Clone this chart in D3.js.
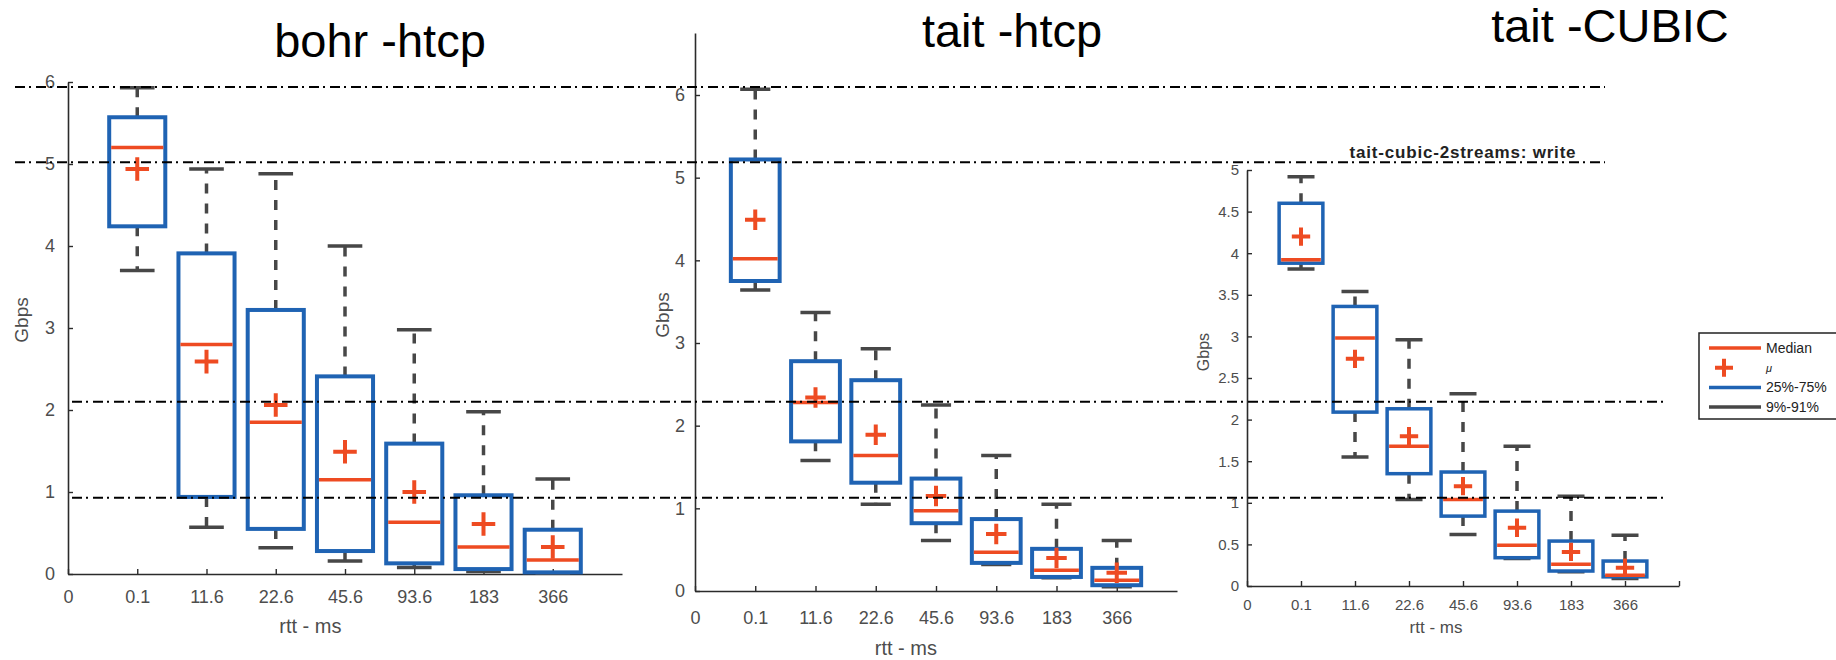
<!DOCTYPE html>
<html>
<head>
<meta charset="utf-8">
<script src="https://cdn.jsdelivr.net/npm/d3@7"></script>
<style>
  body { margin: 0; background: #fff; }
  svg { display: block; }
  text { font-family: "Liberation Sans", Arial, sans-serif; }
</style>
</head>
<body>
<div id="chart"></div>
<script>
// x positions 0..7, position 0 has no data
const rttLabels = ["0", "0.1", "11.6", "22.6", "45.6", "93.6", "183", "366"];

// each row: [9%, 25%, median, mean, 75%, 91%]  (Gbps)
const bohrHtcp = [
  [3.70, 4.24, 5.20, 4.94, 5.57, 5.93],
  [0.57, 0.94, 2.80, 2.59, 3.91, 4.94],
  [0.32, 0.55, 1.85, 2.06, 3.22, 4.88],
  [0.16, 0.28, 1.15, 1.49, 2.41, 4.00],
  [0.08, 0.13, 0.63, 1.00, 1.59, 2.98],
  [0.03, 0.06, 0.33, 0.61, 0.96, 1.98],
  [0.01, 0.02, 0.17, 0.33, 0.54, 1.16]
];
const taitHtcp = [
  [3.64, 3.75, 4.02, 4.49, 5.22, 6.07],
  [1.58, 1.81, 2.28, 2.34, 2.78, 3.37],
  [1.05, 1.31, 1.64, 1.89, 2.55, 2.93],
  [0.61, 0.82, 0.97, 1.15, 1.36, 2.25],
  [0.32, 0.34, 0.47, 0.69, 0.87, 1.64],
  [0.16, 0.17, 0.25, 0.40, 0.51, 1.05],
  [0.05, 0.07, 0.13, 0.22, 0.28, 0.61]
];
const taitCubic = [
  [3.81, 3.88, 3.92, 4.20, 4.60, 4.92],
  [1.55, 2.09, 2.98, 2.73, 3.36, 3.54],
  [1.04, 1.35, 1.68, 1.80, 2.13, 2.96],
  [0.62, 0.84, 1.04, 1.20, 1.37, 2.31],
  [0.33, 0.34, 0.49, 0.70, 0.90, 1.68],
  [0.17, 0.18, 0.26, 0.41, 0.54, 1.08],
  [0.09, 0.11, 0.13, 0.22, 0.30, 0.61]
];

const panelTitles = ["bohr -htcp", "tait -htcp", "tait -CUBIC"];
const cubicSubtitle = "tait-cubic-2streams: write";
const yTicksHtcp = [0, 1, 2, 3, 4, 5, 6];
const yTicksCubic = [0, 0.5, 1, 1.5, 2, 2.5, 3, 3.5, 4, 4.5, 5];
// dash-dot guide lines, in Gbps on the bohr axis
const guideLevels = [5.94, 5.02, 2.10, 0.93];
const legendLabels = ["Median", "\u03bc", "25%-75%", "9%-91%"];

const red = "#ee4b22", blue = "#1f63b3", grey = "#474747", axisCol = "#2b2b2b", tickCol = "#4d4d4d";

const svg = d3.select("#chart").append("svg")
  .attr("width", 1836)
  .attr("height", 660);

const panels = [
  { title: panelTitles[0], data: bohrHtcp, yTicks: yTicksHtcp, yMax: 6,
    left: 68, right: 622, bottom: 574, top: 82,
    titleX: 380, titleY: 57, tickFont: 18, xPad: 16, yPad: 13,
    yLabX: 21, yLabY: 320, xLabY: 633, labFont: 20, stroke: 4, endTick: false },
  { title: panelTitles[1], data: taitHtcp, yTicks: yTicksHtcp, yMax: 6.75,
    left: 695, right: 1177, bottom: 591, top: 33,
    titleX: 1012, titleY: 47, tickFont: 18, xPad: 20, yPad: 10,
    yLabX: 662, yLabY: 315, xLabY: 655, labFont: 20, stroke: 4, endTick: false },
  { title: panelTitles[2], data: taitCubic, yTicks: yTicksCubic, yMax: 5,
    left: 1247, right: 1679, bottom: 586, top: 170,
    titleX: 1610, titleY: 42, tickFont: 15, xPad: 13, yPad: 8,
    yLabX: 1203, yLabY: 352, xLabY: 633, labFont: 17, stroke: 3.5, endTick: true }
];

panels.forEach(p => {
  const x = d3.scaleLinear([0, 8], [p.left, p.right]),
    y = d3.scaleLinear([0, p.yMax], [p.bottom, p.top]),
    step = x(1) - x(0),
    boxW = step * 0.81,
    capW = step * 0.5,
    crossR = step * 0.17,
    g = svg.append("g");

  // axes
  const xAxis = d3.axisBottom(x)
    .tickValues(p.endTick ? d3.range(9) : d3.range(8))
    .tickFormat(i => rttLabels[i] || "")
    .tickSize(-5).tickSizeOuter(0).tickPadding(p.xPad);
  const yAxis = d3.axisLeft(y)
    .tickValues(p.yTicks)
    .tickFormat(d3.format("~g"))
    .tickSize(-5).tickSizeOuter(0).tickPadding(p.yPad);

  [g.append("g").attr("transform", `translate(0,${p.bottom})`).call(xAxis),
   g.append("g").attr("transform", `translate(${p.left},0)`).call(yAxis)]
    .forEach(a => {
      a.attr("font-family", null).attr("font-size", p.tickFont);
      a.select(".domain").attr("stroke", axisCol).attr("stroke-width", 1.6);
      a.selectAll(".tick line").attr("stroke", axisCol).attr("stroke-width", 1.4);
      a.selectAll(".tick text").attr("fill", tickCol);
    });

  g.append("text")
    .attr("x", p.titleX).attr("y", p.titleY)
    .attr("text-anchor", "middle")
    .attr("font-size", 47)
    .attr("fill", "#000")
    .text(p.title);

  g.append("text")
    .attr("x", (p.left + p.right) / 2 - step / 2).attr("y", p.xLabY)
    .attr("text-anchor", "middle")
    .attr("font-size", p.labFont)
    .attr("fill", tickCol)
    .text("rtt - ms");

  g.append("text")
    .attr("transform", `translate(${p.yLabX},${p.yLabY}) rotate(-90)`)
    .attr("text-anchor", "middle")
    .attr("dy", "0.35em")
    .attr("font-size", p.labFont - 1)
    .attr("fill", tickCol)
    .text("Gbps");

  const box = g.append("g").selectAll("g")
    .data(p.data)
    .join("g")
    .attr("transform", (d, i) => `translate(${x(i + 1)},0)`);

  // whiskers
  box.append("path")
    .attr("d", d => `M0,${y(d[4])}V${y(d[5])}M0,${y(d[1])}V${y(d[0])}`)
    .attr("stroke", grey).attr("stroke-width", 3.5)
    .attr("stroke-dasharray", "10,10")
    .attr("fill", "none");
  box.append("path")
    .attr("d", d => `M${-capW / 2},${y(d[5])}h${capW}M${-capW / 2},${y(d[0])}h${capW}`)
    .attr("stroke", grey).attr("stroke-width", 3.5);

  box.append("rect")
    .attr("x", -boxW / 2).attr("width", boxW)
    .attr("y", d => y(d[4]))
    .attr("height", d => y(d[1]) - y(d[4]))
    .attr("fill", "none")
    .attr("stroke", blue).attr("stroke-width", p.stroke);

  box.append("line")
    .attr("x1", -boxW / 2 + 2).attr("x2", boxW / 2 - 2)
    .attr("y1", d => y(d[2])).attr("y2", d => y(d[2]))
    .attr("stroke", red).attr("stroke-width", 3.5);

  box.append("path")
    .attr("d", d => `M${-crossR},${y(d[3])}h${2 * crossR}M0,${y(d[3]) - crossR}v${2 * crossR}`)
    .attr("stroke", red).attr("stroke-width", 4);

  p.y = y;
});

// subtitle of the cubic plot
svg.append("text")
  .attr("x", 1463).attr("y", 158)
  .attr("text-anchor", "middle")
  .attr("font-size", 17).attr("font-weight", "bold")
  .attr("letter-spacing", 0.8)
  .attr("fill", "#222")
  .text(cubicSubtitle);

// dash-dot guide lines across the panels
const yGuide = panels[0].y;
svg.append("g").selectAll("line")
  .data(guideLevels)
  .join("line")
  .attr("x1", (d, i) => i < 2 ? 15 : 72)
  .attr("x2", (d, i) => i < 2 ? 1605 : 1668)
  .attr("y1", d => yGuide(d)).attr("y2", d => yGuide(d))
  .attr("stroke", "#000").attr("stroke-width", 2)
  .attr("stroke-dasharray", "10,4,2,5");

// legend
const lg = svg.append("g").attr("transform", "translate(1699,333)");
lg.append("rect")
  .attr("width", 150).attr("height", 86)
  .attr("fill", "#fff").attr("stroke", "#222").attr("stroke-width", 1.5);
const row = lg.selectAll("g.row")
  .data(legendLabels)
  .join("g")
  .attr("transform", (d, i) => `translate(0,${15 + i * 19.7})`);
row.each(function(d, i) {
  const r = d3.select(this);
  if (i === 1) {
    r.append("path").attr("d", "M25,-9v18M16,0h18")
      .attr("stroke", red).attr("stroke-width", 4);
  } else {
    r.append("line").attr("x1", 10).attr("x2", 62)
      .attr("stroke", [red, null, blue, grey][i]).attr("stroke-width", 3.5);
  }
  r.append("text")
    .attr("x", 67).attr("dy", "0.35em")
    .attr("font-size", i === 1 ? 11 : 14)
    .attr("font-style", i === 1 ? "italic" : null)
    .attr("fill", "#222")
    .text(d);
});
</script>
</body>
</html>
